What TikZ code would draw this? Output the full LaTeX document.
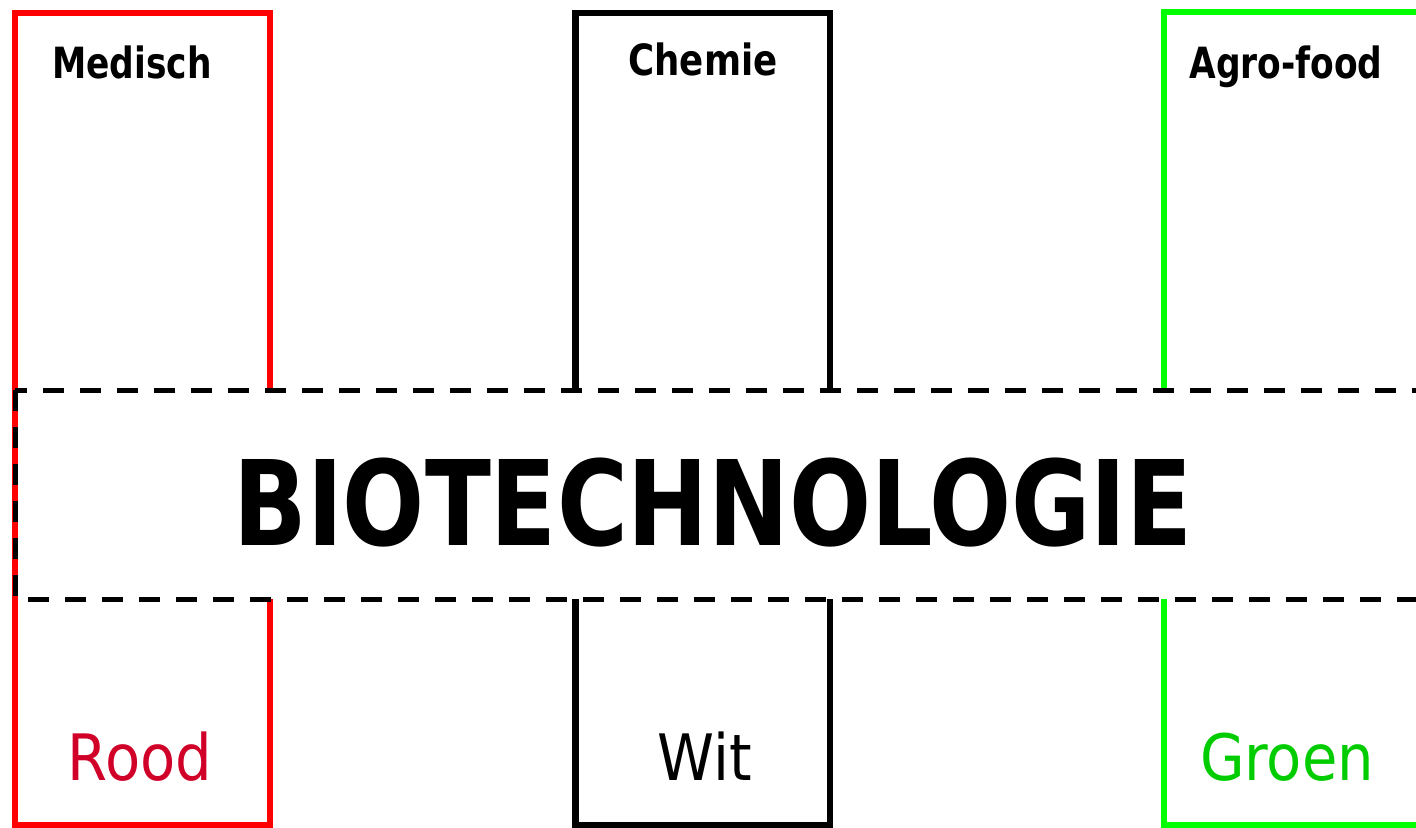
\documentclass[tikz,border=0pt]{standalone}
\usepackage{fontspec}
\setmainfont{DejaVu Sans Condensed}
\definecolor{redline}{RGB}{255,0,0}
\definecolor{greenline}{RGB}{0,255,0}
\definecolor{roodtxt}{RGB}{208,0,40}
\definecolor{groentxt}{RGB}{0,204,0}
\newcommand{\narrowtxt}[2]{\scalebox{#1}[1]{#2}}
\begin{document}
\begin{tikzpicture}[x=0.5pt,y=-0.5pt,
  sector/.style={line width=3.4pt},
  band/.style={line width=2.5pt,dash pattern=on 10.5pt off 8pt},
  toplabel/.style={inner sep=0pt,anchor=base,font=\bfseries\fontsize{21.5}{24}\selectfont},
  botlabel/.style={inner sep=0pt,anchor=base,font=\fontsize{32}{36}\selectfont},
  title/.style={inner sep=0pt,anchor=base,font=\bfseries\fontsize{59}{64}\selectfont}]
\useasboundingbox (0,0) rectangle (1416,827);
\clip (0,0) rectangle (1416,827);
% sector boxes
\draw[sector,redline] (15,13) rectangle (270,825);
\draw[sector,black] (575.5,13) rectangle (830,825);
\draw[sector,greenline] (1164,12) rectangle (1440,825);
% band
\fill[white] (15,390) rectangle (1440,599);
\draw[sector,redline] (15,385) -- (15,605);
\draw[band] (15,390) rectangle (1440,599);
% labels
\node[toplabel] (med) at (132,78) {\narrowtxt{0.89}{Medisch}};
\node[toplabel] (chem) at (703,75) {\narrowtxt{0.92}{Chemie}};
\node[toplabel] (agro) at (1286,78) {\narrowtxt{0.89}{Agro-food}};
\node[title] (bio) at (713,545) {\narrowtxt{0.91}{BIOTECHNOLOGIE}};
\node[botlabel,roodtxt] (rood) at (140,780) {Rood};
\node[botlabel] (wit) at (705,780) {Wit};
\node[botlabel,groentxt] (groen) at (1287,780) {Groen};
\end{tikzpicture}
\end{document}
